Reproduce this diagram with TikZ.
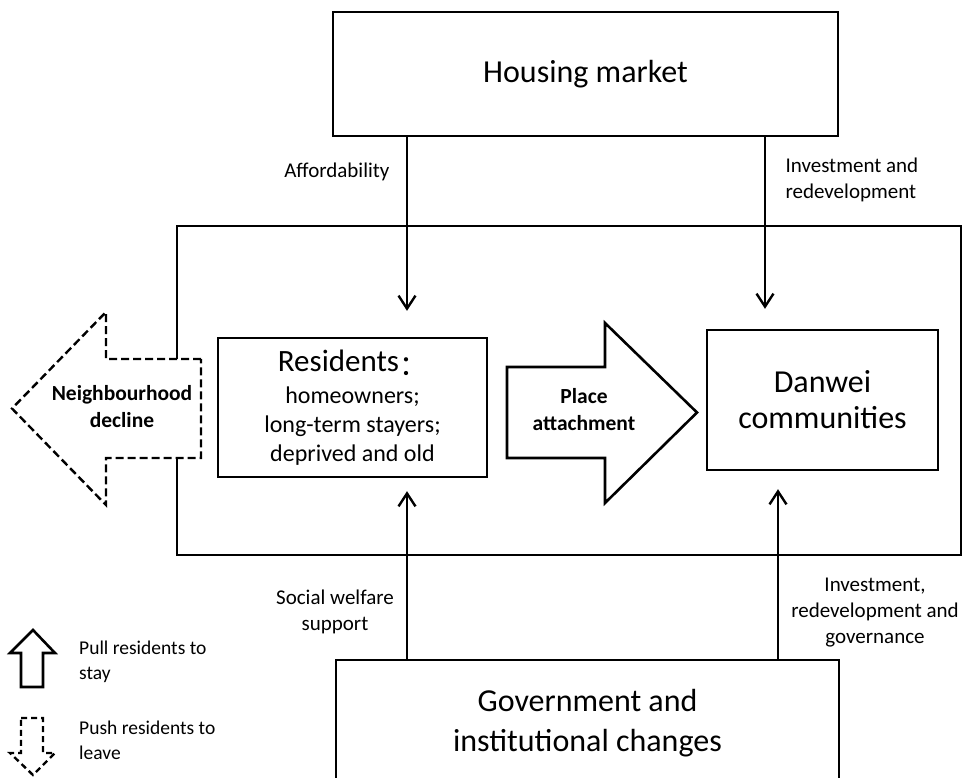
\documentclass[tikz,border=0pt]{standalone}
\usepackage{fontspec}
\setmainfont{Carlito}
\newfontfamily\cjkfont{Noto Sans CJK SC}
\usetikzlibrary{arrows.meta}

\begin{document}
\begin{tikzpicture}[x=1pt, y=-1pt,
    box/.style={draw, line width=2.4pt, inner sep=0pt, align=center},
    bigtxt/.style={font=\fontsize{32}{36}\selectfont},
    flow/.style={line width=2.4pt, -{Straight Barb[length=13pt, width=17pt]}},
    lbl/.style={font=\fontsize{21}{26}\selectfont, align=center},
    boldlbl/.style={font=\bfseries\fontsize{21.5}{27}\selectfont, align=center},
    legtxt/.style={font=\fontsize{19.5}{25}\selectfont, align=left, anchor=west, inner sep=0pt},
    pullshape/.style={line width=2.6pt, fill=white, line join=miter},
    pushshape/.style={line width=2.4pt, fill=white, dash pattern=on 8pt off 4pt},
  ]
  \useasboundingbox (0,0) rectangle (964,777);

  % Caixas
  \node[box, bigtxt, minimum width=505pt, minimum height=124pt] (housing) at (585.5,74) {Housing market};
  \node[box, minimum width=784pt, minimum height=329pt] (frame) at (569,390.5) {};
  \node[box, font=\fontsize{24}{29}\selectfont, minimum width=269pt, minimum height=139pt] (residents) at (352.5,407.5)
    {{\fontsize{31}{34}\selectfont Residents{\cjkfont\fontsize{28}{30}\selectfont\raisebox{-4pt}{：}}}\\[3pt] homeowners;\\ long-term stayers;\\ deprived and old};
  \node[box, font=\fontsize{32}{36}\selectfont, minimum width=231pt, minimum height=140pt] (danwei) at (822.5,400) {Danwei\\communities};
  \node[box, font=\fontsize{32}{40}\selectfont, minimum width=503pt, minimum height=127pt] (gov) at (587.5,723.5) {Government and\\institutional changes};

  % Setas
  \coordinate (affx) at (407,0);
  \coordinate (invx) at (765,0);
  \coordinate (govx) at (778,0);
  \draw[flow, shorten >=26pt] (housing.south -| affx) -- (residents.north -| affx);
  \draw[flow, shorten >=20pt] (housing.south -| invx) -- (danwei.north -| invx);
  \draw[flow, shorten >=13pt] (gov.north -| affx) -- (residents.south -| affx);
  \draw[flow, shorten >=18pt] (gov.north -| govx) -- (danwei.south -| govx);

  % Rotulos
  \node[lbl, anchor=east] (afford) at (393,172) {Affordability};
  \node[lbl, anchor=west, align=left] (invest) at (782,180) {Investment and\\redevelopment};
  \node[lbl] (welfare) at (335,612) {Social welfare\\support};
  \node[lbl] (govern) at (875,613) {Investment,\\redevelopment and\\governance};

  % Setas grandes
  \draw[pushshape] (201,359) -- (106,359) -- (106,312) -- (12,408.5) -- (106,505) -- (106,458) -- (201,458) -- cycle;
  \node[boldlbl] (decline) at (122,407) {Neighbourhood\\decline};
  \draw[pullshape] (507,367) -- (605,367) -- (605,323) -- (697,412.5) -- (605,503) -- (605,458) -- (507,458) -- cycle;
  \node[boldlbl] (attach) at (584,410) {Place\\attachment};

  % Legenda
  \draw[pullshape] (21,687) -- (21,653) -- (10,653) -- (33,630) -- (55,653) -- (43,653) -- (43,687) -- cycle;
  \node[legtxt] (pull) at (79,662) {Pull residents to\\stay};
  \draw[pushshape, dash pattern=on 6pt off 4pt] (21,718) -- (43,718) -- (43,753) -- (55,753) -- (33,775) -- (10,753) -- (21,753) -- cycle;
  \node[legtxt] (push) at (79,740) {Push residents to\\leave};
\end{tikzpicture}
\end{document}
